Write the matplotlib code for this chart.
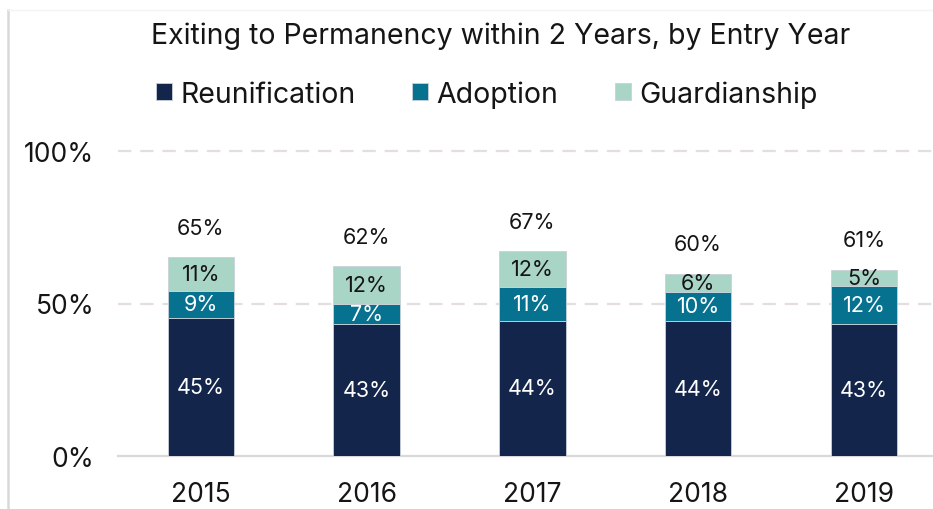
import matplotlib
matplotlib.use("Agg")
import matplotlib.pyplot as plt
from matplotlib.lines import Line2D
import numpy as np

plt.rcParams['font.family'] = ['Inter', 'DejaVu Sans']

years = ["2015", "2016", "2017", "2018", "2019"]
reunification = [45.4, 43.4, 44.3, 44.2, 43.4]
adoption = [8.6, 6.6, 11.1, 9.7, 12.3]
guardianship = [11.3, 12.4, 11.9, 5.9, 5.4]
reun_labels = ["45%", "43%", "44%", "44%", "43%"]
adop_labels = ["9%", "7%", "11%", "10%", "12%"]
guard_labels = ["11%", "12%", "12%", "6%", "5%"]
total_labels = ["65%", "62%", "67%", "60%", "61%"]
yticks = [0, 50, 100]
ytick_labels = ["0%", "50%", "100%"]
series_names = ["Reunification", "Adoption", "Guardianship"]
colors = ["#13254A", "#06728F", "#A9D5C7"]

W, H = 933, 510
fig = plt.figure(figsize=(W/100, H/100), dpi=100)
ax = fig.add_axes([118/W, (H-457)/H, (W-118)/W, (457-152)/H])

x = np.arange(len(years))
bw = 0.4
b1 = ax.bar(x, reunification, bw, color=colors[0], edgecolor="#C9D2DA", linewidth=0.6, zorder=3)
bottom2 = np.array(reunification)
b2 = ax.bar(x, adoption, bw, bottom=bottom2, color=colors[1], edgecolor="#C9D2DA", linewidth=0.6, zorder=3)
bottom3 = bottom2 + np.array(adoption)
b3 = ax.bar(x, guardianship, bw, bottom=bottom3, color=colors[2], edgecolor="#C9D2DA", linewidth=0.6, zorder=3)
totals = bottom3 + np.array(guardianship)

for i in range(len(years)):
    ax.text(x[i], reunification[i]/2, reun_labels[i], ha='center', va='center', color='white', fontsize=15.5, zorder=4)
    ax.text(x[i], bottom2[i] + adoption[i]/2, adop_labels[i], ha='center', va='center', color='white', fontsize=15.5, zorder=4)
    ax.text(x[i], bottom3[i] + guardianship[i]/2, guard_labels[i], ha='center', va='center', color='#151515', fontsize=15.5, zorder=4)
    ax.annotate(total_labels[i], (x[i], totals[i]), xytext=(0, 21), textcoords='offset points',
                ha='center', va='center', color='#151515', fontsize=15.5)

ax.set_xlim(-0.5, -0.5 + (W-118)/165.75)
ax.set_ylim(0, 100)
ax.set_yticks(yticks)
ax.set_yticklabels(ytick_labels, fontsize=19, color='#151515')
ax.set_xticks(x)
ax.set_xticklabels(years, fontsize=19, color='#151515')
ax.tick_params(axis='both', length=0)
ax.tick_params(axis='y', pad=17)
ax.tick_params(axis='x', pad=18)
for s in ax.spines.values():
    s.set_visible(False)
for yv in yticks[1:]:
    ax.axhline(yv, color='#E4DEE0', linewidth=1.6, linestyle=(0, (6, 4)), zorder=1, clip_on=False)
ax.axhline(0, color='#D9D9D9', linewidth=1.6, zorder=2, clip_on=False)

fig.text(501/W, 1 - 36/H, "Exiting to Permanency within 2 Years, by Entry Year", ha='center', va='center',
         fontsize=20.5, color='#151515')
fig.legend([b1, b2, b3], series_names, loc='center', bbox_to_anchor=(487/W, 1 - 95/H), ncol=3,
           frameon=False, fontsize=20.5, handlelength=0.55, handleheight=0.55, handletextpad=0.3,
           columnspacing=2.0, labelcolor='#151515')

fig.add_artist(Line2D([8/W, 8/W], [0, 1 - 11/H], color='#D9D9D9', linewidth=1.8))
fig.add_artist(Line2D([8/W, 1], [1 - 11/H, 1 - 11/H], color='#F4F4F4', linewidth=1))

fig.savefig("out.png", dpi=100)
